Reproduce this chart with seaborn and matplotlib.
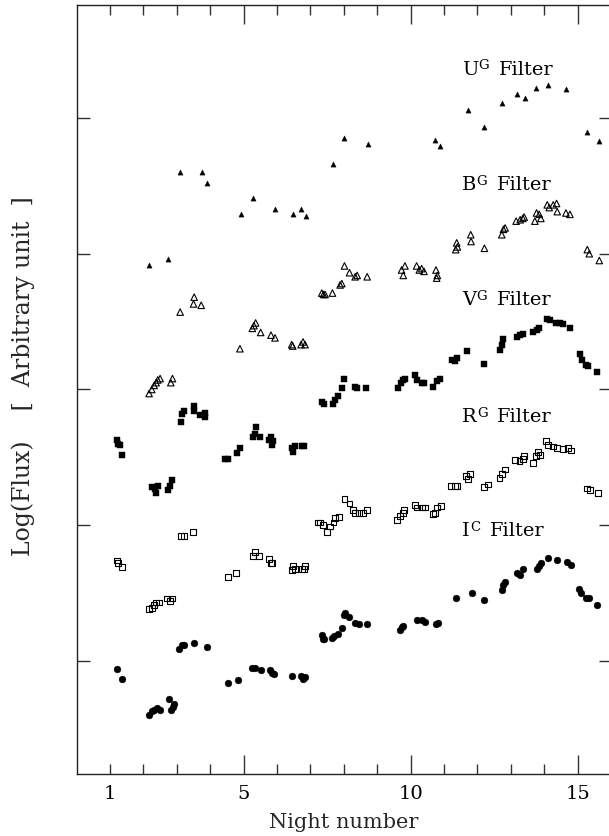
import matplotlib
matplotlib.use("Agg")
import matplotlib.pyplot as plt
import seaborn as sns

# ---------------- data (night number, log flux in arbitrary units) ----------------
U_x = [2.17, 2.75, 3.10, 3.75, 3.91, 4.93, 5.28, 5.94, 6.48, 6.73, 6.88, 7.67, 8.02,
       8.73, 10.73, 10.88, 11.72, 12.21, 12.75, 13.18, 13.42, 13.75, 14.10, 14.66,
       15.28, 15.65]
U_y = [3.92, 3.96, 4.60, 4.60, 4.52, 4.29, 4.41, 4.33, 4.29, 4.33, 4.28, 4.66, 4.85,
       4.81, 4.84, 4.79, 5.06, 4.93, 5.11, 5.18, 5.15, 5.22, 5.24, 5.21,
       4.90, 4.83]

B_x = [2.17, 2.25, 2.32, 2.38, 2.43, 2.50, 2.82, 2.87, 3.10, 3.50, 3.52, 3.73, 4.89,
       5.26, 5.31, 5.36, 5.51, 5.82, 5.94, 6.44, 6.47, 6.72, 6.78, 6.84,
       7.34, 7.39, 7.44, 7.66, 7.89, 7.94, 8.02, 8.17, 8.34, 8.40, 8.70,
       9.73, 9.78, 9.83, 10.18, 10.26, 10.33, 10.40, 10.76, 10.80, 10.78,
       11.35, 11.38, 11.40, 11.80, 11.81, 12.21, 12.73, 12.78, 12.83,
       13.16, 13.28, 13.36, 13.40, 13.72, 13.77, 13.85, 13.90,
       14.09, 14.15, 14.27, 14.37, 14.39, 14.65, 14.77, 15.29, 15.35, 15.65]
B_y = [2.97, 3.00, 3.03, 3.05, 3.07, 3.08, 3.05, 3.08, 3.57, 3.63, 3.68, 3.62, 3.30,
       3.45, 3.47, 3.49, 3.42, 3.40, 3.38, 3.33, 3.32, 3.33, 3.35, 3.33,
       3.71, 3.70, 3.70, 3.71, 3.77, 3.78, 3.91, 3.86, 3.83, 3.84, 3.83,
       3.88, 3.84, 3.91, 3.91, 3.88, 3.89, 3.87, 3.88, 3.84, 3.82,
       4.03, 4.08, 4.05, 4.14, 4.09, 4.04, 4.14, 4.18, 4.19,
       4.24, 4.25, 4.26, 4.27, 4.24, 4.30, 4.29, 4.26,
       4.36, 4.34, 4.36, 4.37, 4.31, 4.30, 4.29, 4.03, 4.00, 3.95]

V_x = [1.22, 1.25, 1.30, 1.37, 2.25, 2.35, 2.43, 2.38, 2.75, 2.80, 2.85,
       3.13, 3.15, 3.22, 3.50, 3.51, 3.70, 3.84, 3.84, 4.44, 4.54, 4.79, 4.88,
       5.29, 5.37, 5.34, 5.49, 5.76, 5.82, 5.84, 5.87, 6.44, 6.47, 6.54, 6.74, 6.82,
       7.34, 7.42, 7.69, 7.74, 7.84, 7.94, 8.01, 8.34, 8.40, 8.66,
       9.63, 9.70, 9.78, 9.83, 10.13, 10.20, 10.33, 10.40, 10.68, 10.78, 10.88,
       11.23, 11.33, 11.40, 11.68, 12.21, 12.68, 12.73, 12.78,
       13.18, 13.28, 13.36, 13.67, 13.77, 13.85,
       14.07, 14.17, 14.35, 14.47, 14.57, 14.77, 15.07, 15.12, 15.25, 15.32, 15.59]
V_y = [2.63, 2.60, 2.59, 2.52, 2.28, 2.27, 2.29, 2.24, 2.26, 2.29, 2.33,
       2.76, 2.82, 2.84, 2.84, 2.88, 2.81, 2.83, 2.80, 2.49, 2.49, 2.53, 2.57,
       2.65, 2.72, 2.67, 2.65, 2.63, 2.65, 2.59, 2.62, 2.57, 2.54, 2.58, 2.58, 2.58,
       2.91, 2.89, 2.89, 2.92, 2.95, 3.01, 3.08, 3.02, 3.01, 3.01,
       3.01, 3.05, 3.07, 3.08, 3.11, 3.07, 3.05, 3.05, 3.02, 3.06, 3.08,
       3.22, 3.21, 3.23, 3.28, 3.19, 3.29, 3.33, 3.37,
       3.39, 3.40, 3.41, 3.42, 3.44, 3.45,
       3.52, 3.51, 3.49, 3.49, 3.48, 3.45, 3.26, 3.22, 3.18, 3.17, 3.13]

R_x = [1.20, 1.25, 1.37, 2.17, 2.25, 2.31, 2.38, 2.47, 2.70, 2.80, 2.85,
       3.13, 3.22, 3.48, 4.52, 4.78, 5.29, 5.34, 5.46, 5.76, 5.82, 5.86,
       6.44, 6.49, 6.54, 6.74, 6.82, 6.84,
       7.22, 7.29, 7.39, 7.49, 7.59, 7.69, 7.74, 7.86, 8.02, 8.17,
       8.28, 8.34, 8.46, 8.58, 8.70, 9.60, 9.68, 9.76, 9.81,
       10.13, 10.20, 10.33, 10.43, 10.66, 10.73, 10.80, 10.90,
       11.21, 11.33, 11.40, 11.66, 11.73, 11.78, 12.20, 12.33,
       12.66, 12.73, 12.83, 13.13, 13.26, 13.36, 13.40, 13.67, 13.75, 13.82, 13.87,
       14.05, 14.12, 14.27, 14.39, 14.57, 14.72, 14.79, 15.27, 15.37, 15.62]
R_y = [1.74, 1.72, 1.69, 1.38, 1.39, 1.41, 1.43, 1.43, 1.46, 1.44, 1.46,
       1.92, 1.92, 1.95, 1.62, 1.65, 1.77, 1.80, 1.77, 1.75, 1.72, 1.72,
       1.67, 1.70, 1.68, 1.68, 1.68, 1.70,
       2.02, 2.02, 2.00, 1.95, 1.99, 2.02, 2.05, 2.06, 2.19, 2.16,
       2.11, 2.09, 2.09, 2.09, 2.11, 2.04, 2.07, 2.09, 2.11,
       2.15, 2.13, 2.13, 2.13, 2.08, 2.09, 2.13, 2.14,
       2.29, 2.29, 2.29, 2.36, 2.34, 2.38, 2.28, 2.30,
       2.35, 2.38, 2.41, 2.48, 2.47, 2.49, 2.51, 2.46, 2.51, 2.54, 2.52,
       2.62, 2.59, 2.58, 2.57, 2.56, 2.57, 2.55, 2.27, 2.26, 2.24]

I_x = [1.20, 1.37, 2.17, 2.25, 2.32, 2.40, 2.50, 2.78, 2.83, 2.88, 2.93,
       3.08, 3.15, 3.22, 3.50, 3.89, 4.54, 4.82, 5.24, 5.34, 5.51, 5.79, 5.86, 5.91,
       6.46, 6.72, 6.79, 6.84, 7.34, 7.39, 7.42, 7.64, 7.72, 7.84, 7.94, 8.02,
       8.04, 8.17, 8.34, 8.44, 8.70, 9.68, 9.73, 9.78, 10.18, 10.33, 10.43,
       10.75, 10.81, 11.36, 11.83, 12.21, 12.73, 12.78, 12.83,
       13.18, 13.28, 13.36, 13.77, 13.85, 13.90, 14.12, 14.37, 14.69, 14.79,
       15.05, 15.09, 15.25, 15.35, 15.57]
I_y = [0.94, 0.87, 0.60, 0.63, 0.64, 0.65, 0.64, 0.72, 0.64, 0.66, 0.68,
       1.09, 1.12, 1.12, 1.13, 1.10, 0.84, 0.86, 0.95, 0.95, 0.93, 0.93, 0.91, 0.90,
       0.89, 0.89, 0.87, 0.88, 1.19, 1.16, 1.16, 1.17, 1.18, 1.20, 1.24, 1.34,
       1.35, 1.32, 1.28, 1.27, 1.27, 1.23, 1.25, 1.26, 1.30, 1.30, 1.29,
       1.27, 1.28, 1.46, 1.50, 1.45, 1.52, 1.56, 1.58,
       1.65, 1.63, 1.68, 1.68, 1.70, 1.72, 1.76, 1.74, 1.73, 1.71,
       1.53, 1.50, 1.46, 1.46, 1.41]

filter_letters = ["U", "B", "V", "R", "I"]
filter_supers = ["G", "G", "G", "G", "C"]
filter_word = "Filter"
label_x = [11.53, 11.53, 11.53, 11.53, 11.53]
label_y = [5.32, 4.47, 3.62, 2.76, 1.92]

x_major = [5, 10, 15]
x_minor = [1, 2, 3, 4, 6, 7, 8, 9, 11, 12, 13, 14, 16]
x_minor_labels = ["1", "", "", "", "", "", "", "", "", "", "", "", ""]
y_ticks = [1, 2, 3, 4, 5]

# ---------------- style ----------------
sns.set_style("ticks")
plt.rcParams["font.family"] = ["DejaVu Serif"]

fig = plt.figure(figsize=(6.09, 8.36), dpi=100)
ax = fig.add_axes([0.1258, 0.0742, 0.8775, 0.9199])

sns.scatterplot(x=U_x, y=U_y, ax=ax, marker="^", s=14, color="black",
                edgecolor="black", linewidth=0.3)
sns.scatterplot(x=B_x, y=B_y, ax=ax, marker="^", s=22, color="black",
                facecolor="none", edgecolor="black", linewidth=0.8)
sns.scatterplot(x=V_x, y=V_y, ax=ax, marker="s", s=14, color="black",
                edgecolor="black", linewidth=0.3)
sns.scatterplot(x=R_x, y=R_y, ax=ax, marker="s", s=18, color="black",
                facecolor="none", edgecolor="black", linewidth=0.8)
sns.scatterplot(x=I_x, y=I_y, ax=ax, marker="o", s=24, color="black",
                edgecolor="black", linewidth=0.3)

ax.set_xlim(0, 16)
ax.set_ylim(0.167, 5.833)
ax.set_xticks(x_major)
ax.set_xticklabels([str(v) for v in x_major])
ax.set_xticks(x_minor, labels=x_minor_labels, minor=True)
ax.set_yticks(y_ticks)
ax.set_yticklabels([])

ax.tick_params(axis="both", which="both", direction="in", top=True, right=True,
               color="#333333", labelsize=14, labelcolor="black", width=1)
ax.tick_params(axis="x", which="major", length=14, pad=8)
ax.tick_params(axis="x", which="minor", length=7, pad=8)
ax.tick_params(axis="y", which="major", length=9)

for sp in ax.spines.values():
    sp.set_linewidth(1.0)
    sp.set_color("#222222")

ax.set_xlabel("Night number", fontsize=15, va="baseline")
ax.xaxis.set_label_coords(0.5, -0.0702)
ax.set_ylabel("Log(Flux)    [  Arbitrary unit  ]", fontsize=17, va="center", ha="center")
ax.yaxis.set_label_coords(-0.1003, 0.5176)

# filter labels: letter, top-aligned small superscript, then the word
main_fs = 14
sup_fs = 9.5
fig.canvas.draw()
renderer = fig.canvas.get_renderer()
for lx, ly, let, sup in zip(label_x, label_y, filter_letters, filter_supers):
    t1 = ax.text(lx, ly, let, fontsize=main_fs, ha="left", va="baseline", color="black")
    w1 = t1.get_window_extent(renderer).width * 72.0 / fig.dpi
    raise_pt = 0.729 * (main_fs - sup_fs) + 0.4
    t2 = ax.annotate(sup, xy=(lx, ly), xycoords="data",
                     xytext=(w1 + 0.3, raise_pt), textcoords="offset points",
                     fontsize=sup_fs, ha="left", va="baseline", color="black")
    w2 = t2.get_window_extent(renderer).width * 72.0 / fig.dpi
    ax.annotate(filter_word, xy=(lx, ly), xycoords="data",
                xytext=(w1 + 0.3 + w2 + 7.0, 0), textcoords="offset points",
                fontsize=main_fs, ha="left", va="baseline", color="black")

fig.savefig("out.png", dpi=100)
